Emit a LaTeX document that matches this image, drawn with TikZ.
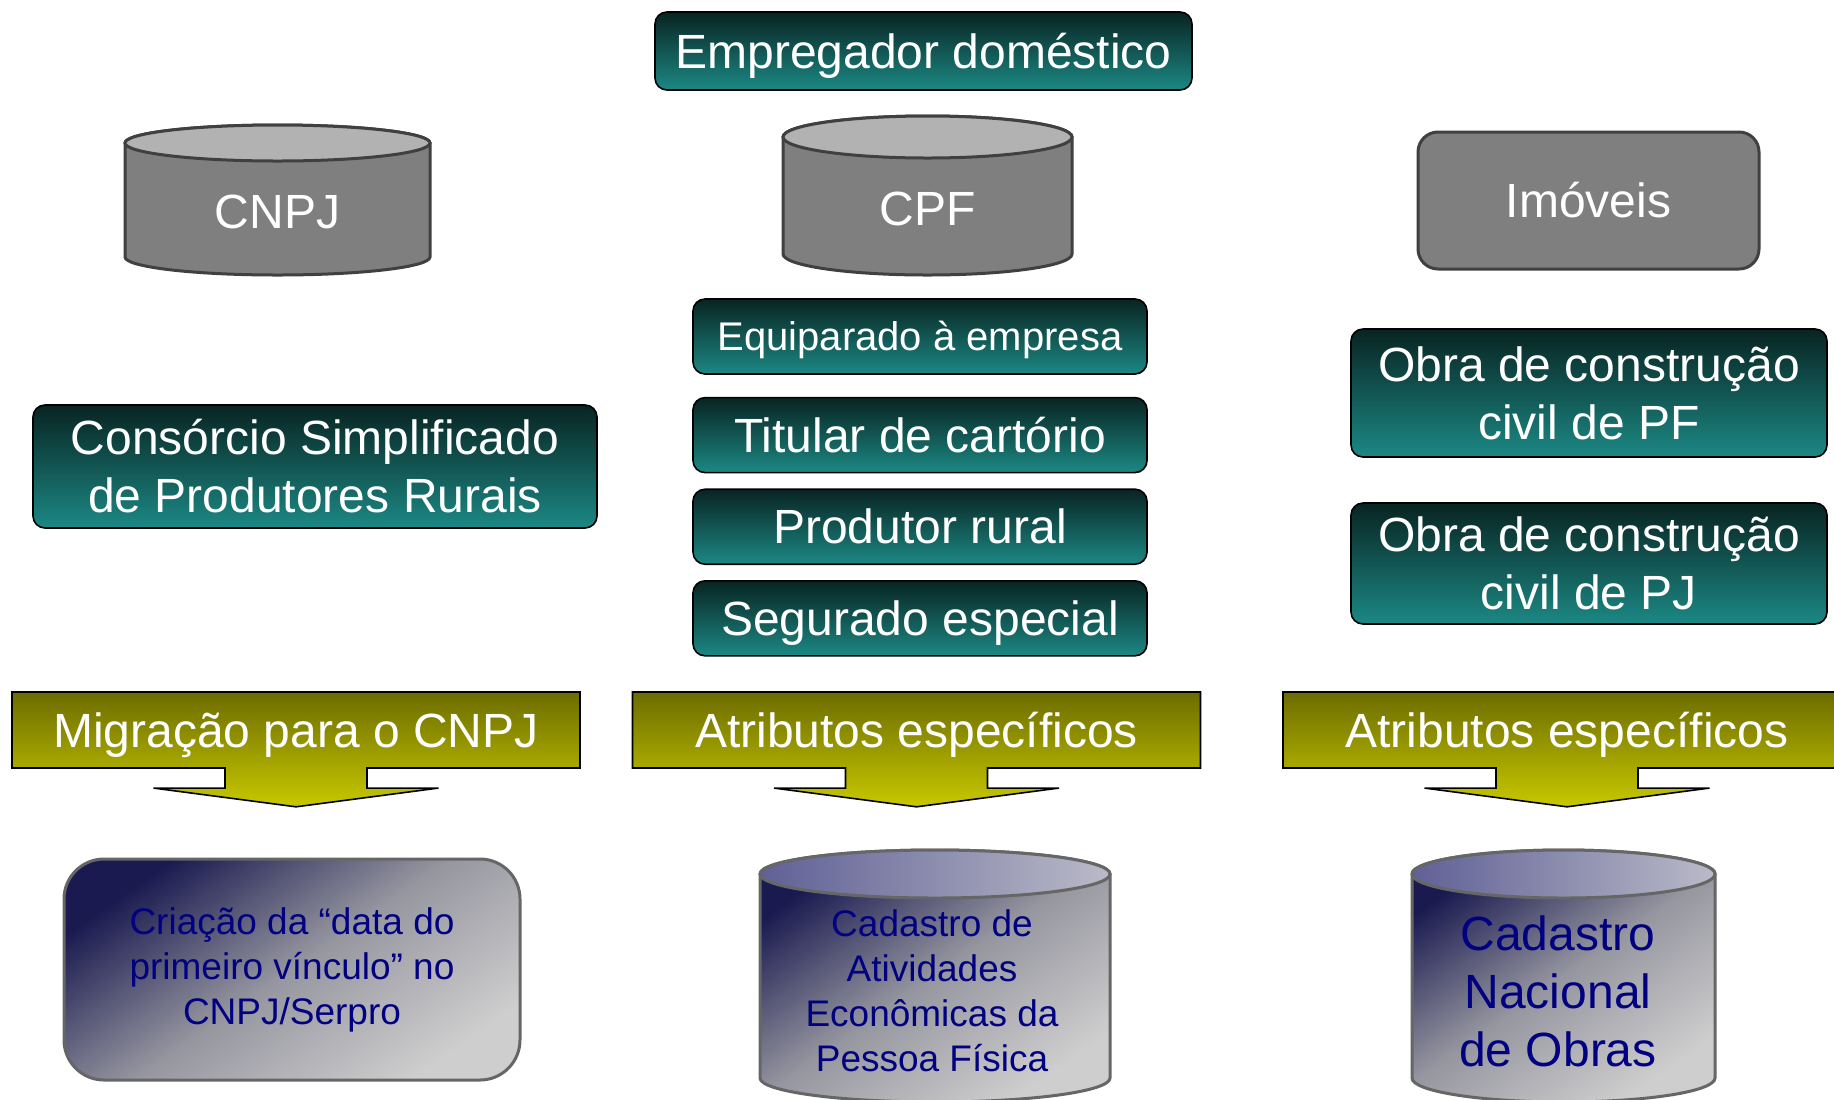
\documentclass[tikz,border=0pt]{standalone}
\usepackage{fontspec}
\setmainfont{Liberation Sans}
\usepackage{tikz}
\usetikzlibrary{shapes.arrows, positioning}

\definecolor{tealdark}{RGB}{8,36,34}
\definecolor{teallight}{RGB}{28,136,132}
\definecolor{olivedark}{RGB}{108,108,0}
\definecolor{oliveyellow}{RGB}{200,200,0}
\definecolor{drumgray}{RGB}{127,127,127}
\definecolor{drumlid}{RGB}{178,178,178}
\definecolor{drumedge}{RGB}{64,64,64}
\definecolor{navydark}{RGB}{26,26,80}
\definecolor{midgray}{RGB}{150,150,160}
\definecolor{paper}{RGB}{206,206,206}
\definecolor{lidleft}{RGB}{96,96,150}
\definecolor{lidright}{RGB}{186,186,200}
\definecolor{inknavy}{RGB}{0,0,128}

\newcommand{\bigtxt}{\fontsize{24pt}{29pt}\selectfont}
\newcommand{\midtxt}{\fontsize{20pt}{24pt}\selectfont}
\newcommand{\smalltxt}{\fontsize{18.5pt}{22.5pt}\selectfont}

\begin{document}
\begin{tikzpicture}[
  x=0.5pt, y=0.5pt,
  every node/.style={font=\bigtxt, align=center, inner sep=0pt},
  tealbox/.style={draw=black, line width=0.8pt, rounded corners=6pt, top color=tealdark, bottom color=teallight, text=white},
  oneline/.style={text height=22.2pt, text depth=5pt},
  smallline/.style={text height=18.5pt, text depth=4.2pt},
  graybox/.style={draw=drumedge, line width=1.5pt, rounded corners=10pt, fill=drumgray, text=white},
  drumside/.style={draw=drumedge, line width=1.5pt, fill=drumgray},
  drumtop/.style={draw=drumedge, line width=1.5pt, fill=drumlid},
  bluebody/.style={draw=drumedge!80, line width=1.5pt, top color=navydark, bottom color=paper, middle color=midgray, shading angle=35},
  bluelid/.style={draw=drumedge!80, line width=1.5pt, left color=lidleft, right color=lidright},
  downarrow/.style={arrow box, draw=black, line width=0.8pt, top color=olivedark, bottom color=oliveyellow, text=white, minimum width=284pt, minimum height=38pt, arrow box arrows={south:19pt from border}, arrow box shaft width=71pt, arrow box head extend=35.75pt, arrow box tip angle=165}
]
\useasboundingbox (0,0) rectangle (1834,-1099);
\clip (0,0) rectangle (1834,-1099);
\fill[white] (0,0) rectangle (1834,-1099);

\node[tealbox, oneline, minimum width=268.5pt, minimum height=39pt] (empregador) at (923.5,-51) {Empregador doméstico};

% cadastros de origem
\path[drumside] (125,-143) -- (125,-257) arc[start angle=180, end angle=360, x radius=76.25pt, y radius=9pt] -- (430,-143) arc[start angle=0, end angle=180, x radius=76.25pt, y radius=9pt] -- cycle;
\path[drumtop] (277.5,-143) ellipse[x radius=76.25pt, y radius=9pt];
\node[text=white, oneline] (cnpj) at (277.5,-211) {CNPJ};

\path[drumside] (783,-137) -- (783,-254) arc[start angle=180, end angle=360, x radius=72.25pt, y radius=10.5pt] -- (1072,-137) arc[start angle=0, end angle=180, x radius=72.25pt, y radius=10.5pt] -- cycle;
\path[drumtop] (927.5,-137) ellipse[x radius=72.25pt, y radius=10.5pt];
\node[text=white, oneline] (cpf) at (927.5,-208) {CPF};

\node[graybox, oneline, minimum width=170.5pt, minimum height=68.5pt] (imoveis) at (1588.5,-200.5) {Imóveis};

% contribuintes
\node[tealbox, minimum width=282pt, minimum height=61.5pt] (consorcio) at (315,-466.5) {Consórcio Simplificado\\de Produtores Rurais};

\node[tealbox, smallline, font=\midtxt, minimum width=227pt, minimum height=37.5pt] (equiparado) at (920,-336.5) {Equiparado à empresa};
\node[tealbox, oneline, minimum width=227pt, minimum height=37.5pt, below=11pt of equiparado] (titular) {Titular de cartório};
\node[tealbox, oneline, minimum width=227pt, minimum height=37.5pt, below=7.5pt of titular] (produtor) {Produtor rural};
\node[tealbox, oneline, minimum width=227pt, minimum height=37.5pt, below=7.5pt of produtor] (segurado) {Segurado especial};

\node[tealbox, minimum width=238pt, minimum height=64pt] (obrapf) at (1589,-393) {Obra de construção\\civil de PF};
\node[tealbox, minimum width=238pt, minimum height=60.5pt] (obrapj) at (1589,-563.5) {Obra de construção\\civil de PJ};

% setas
\node[downarrow, oneline] (migracao) at (296,-730) {Migração para o CNPJ};
\node[downarrow, oneline] (atribpf) at (916.5,-730) {Atributos específicos};
\node[downarrow, oneline] (atribobra) at (1567,-730) {Atributos específicos};

% destinos
\node[bluebody, rounded corners=20pt, text=inknavy, font=\smalltxt, minimum width=228pt, minimum height=110.5pt] (criacao) at (292,-969.5) {Criação da “data do\\primeiro vínculo” no\\CNPJ/Serpro};

\path[bluebody] (760,-874) -- (760,-1078) arc[start angle=180, end angle=360, x radius=87.5pt, y radius=12pt] -- (1110,-874) arc[start angle=0, end angle=180, x radius=87.5pt, y radius=12pt] -- cycle;
\path[bluelid] (935,-874) ellipse[x radius=87.5pt, y radius=12pt];
\node[text=inknavy, font=\smalltxt] (caepf) at (932,-991) {Cadastro de\\Atividades\\Econômicas da\\Pessoa Física};

\path[bluebody] (1412,-874) -- (1412,-1078) arc[start angle=180, end angle=360, x radius=75.75pt, y radius=12pt] -- (1715,-874) arc[start angle=0, end angle=180, x radius=75.75pt, y radius=12pt] -- cycle;
\path[bluelid] (1563.5,-874) ellipse[x radius=75.75pt, y radius=12pt];
\node[text=inknavy] (cno) at (1558,-991) {Cadastro\\Nacional\\de Obras};

\end{tikzpicture}
\end{document}
